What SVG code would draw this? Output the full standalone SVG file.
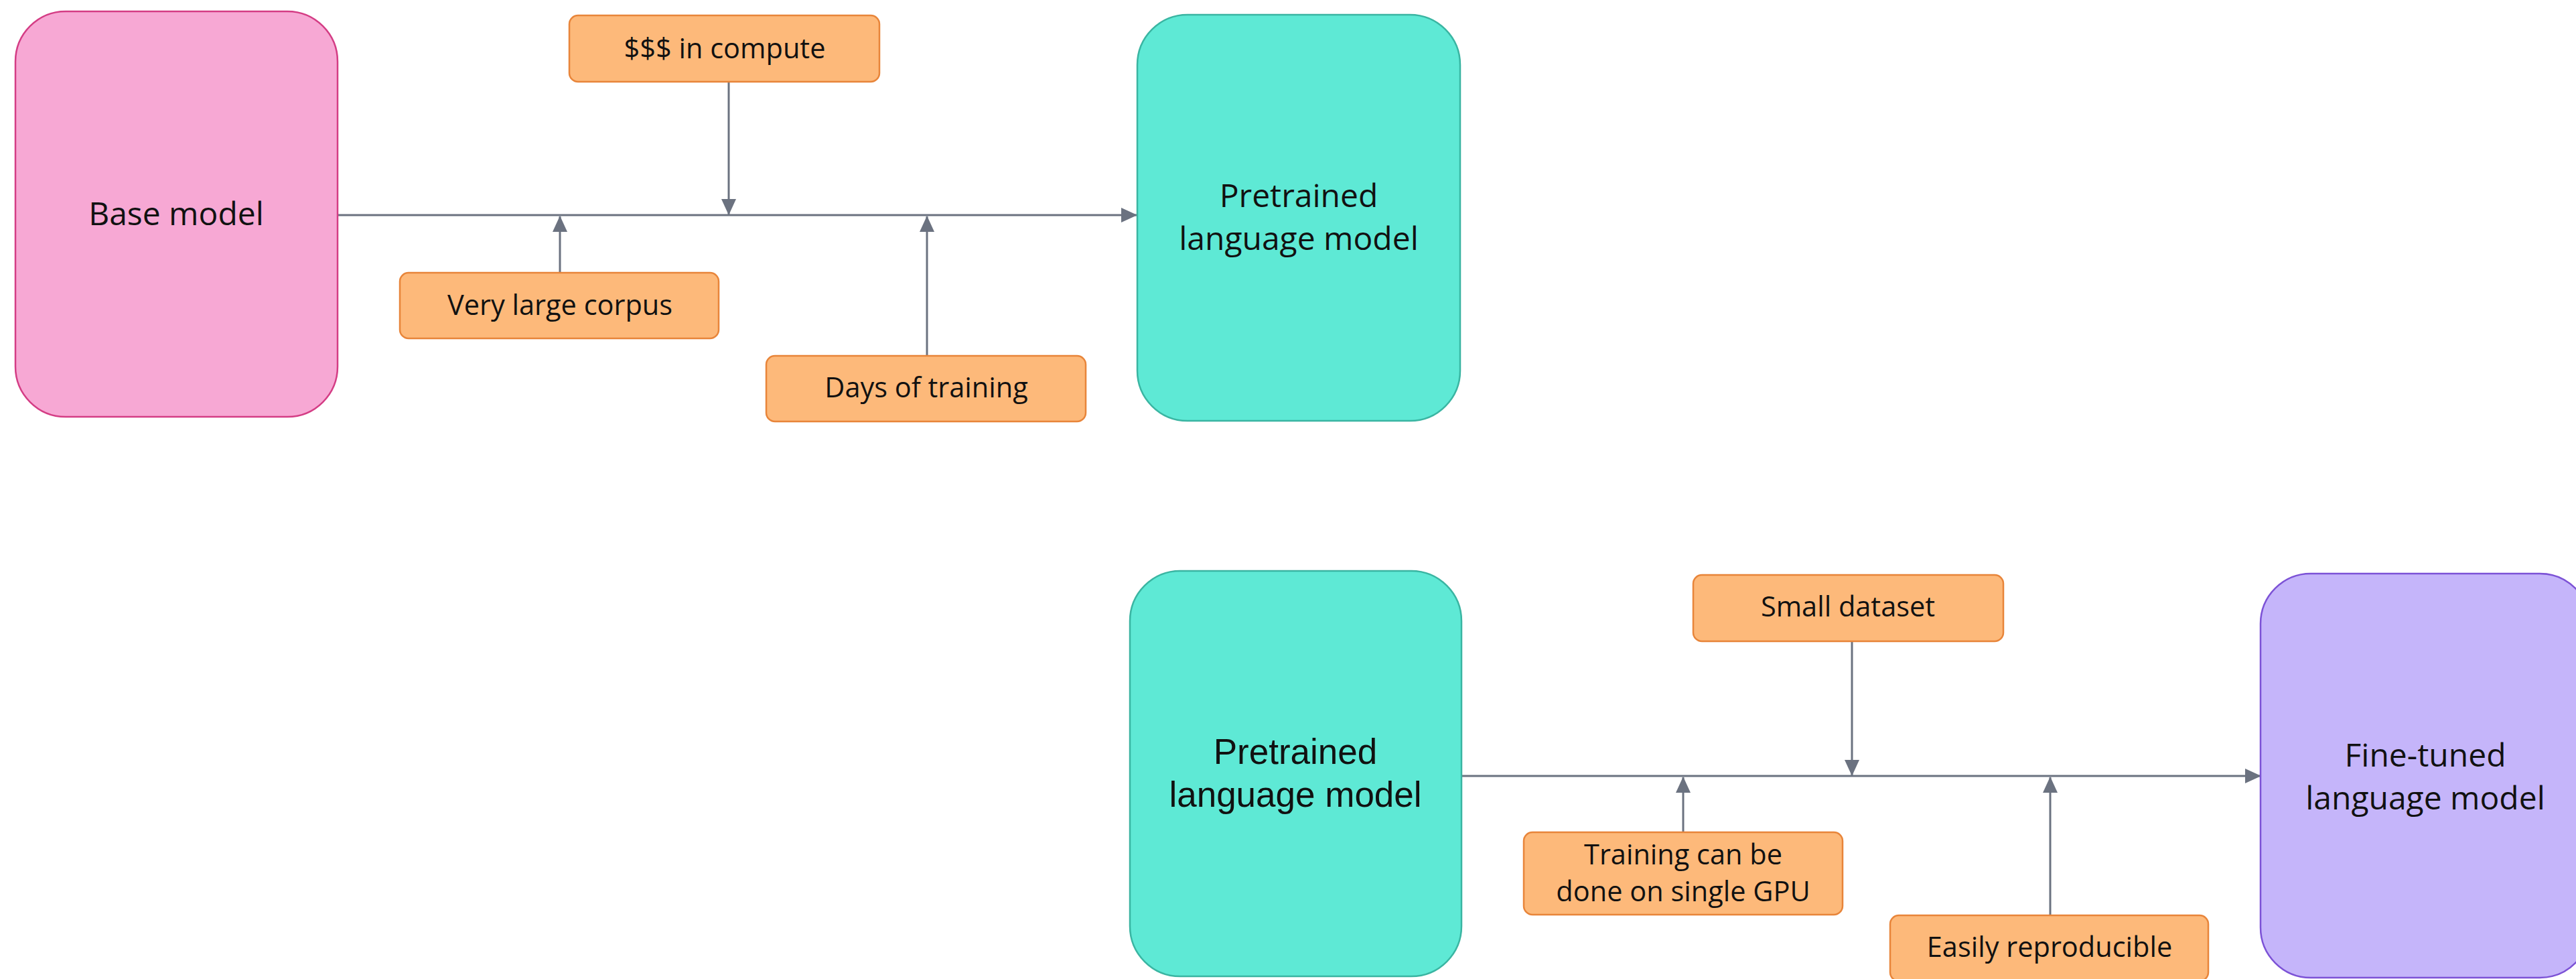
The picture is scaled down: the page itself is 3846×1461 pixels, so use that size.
<svg xmlns="http://www.w3.org/2000/svg" width="3846" height="1461" viewBox="0 0 3846 1461">
<style>
.big{font-family:"Open Sans","Noto Sans",sans-serif;font-size:48px;fill:#111;text-anchor:middle}
.arial{font-family:"Liberation Sans",Arial,sans-serif;font-size:53px;fill:#111;text-anchor:middle}
.lbl{font-family:"Open Sans","Noto Sans",sans-serif;font-size:41.5px;fill:#111;text-anchor:middle}
.note{fill:#FDB97A;stroke:#E8853A;stroke-width:2.5}
.conn{stroke:#6B7280;stroke-width:3;fill:none}
</style>
<defs>
<marker id="ah" markerUnits="userSpaceOnUse" markerWidth="24" markerHeight="24" viewBox="0 0 24 24" refX="23" refY="12" orient="auto">
<path d="M0,1 L24,12 L0,23 Z" fill="#6B7280"/>
</marker>
</defs>
<rect width="3846" height="1461" fill="#ffffff"/>
<g id="connectors">
<line class="conn" x1="504" y1="321" x2="1697" y2="321" marker-end="url(#ah)"/>
<line class="conn" x1="1088" y1="122" x2="1088" y2="320" marker-end="url(#ah)"/>
<line class="conn" x1="836" y1="407" x2="836" y2="323" marker-end="url(#ah)"/>
<line class="conn" x1="1384" y1="531" x2="1384" y2="323" marker-end="url(#ah)"/>
<line class="conn" x1="2182" y1="1158" x2="3375" y2="1158" marker-end="url(#ah)"/>
<line class="conn" x1="2765" y1="957" x2="2765" y2="1157" marker-end="url(#ah)"/>
<line class="conn" x1="2513" y1="1242" x2="2513" y2="1160" marker-end="url(#ah)"/>
<line class="conn" x1="3061" y1="1366" x2="3061" y2="1160" marker-end="url(#ah)"/>
</g>
<g id="base-model">
<rect x="23" y="17" width="481" height="605" rx="75" fill="#F7A8D4" stroke="#D43D85" stroke-width="2.5"/>
<text class="big" x="263" y="336">Base model</text>
</g>
<g id="pretrained-top">
<rect x="1698" y="22" width="482" height="606" rx="75" fill="#5EE9D5" stroke="#3AB5A2" stroke-width="2.5"/>
<text class="big" x="1939" y="309">Pretrained</text>
<text class="big" x="1939" y="373">language model</text>
</g>
<g id="compute">
<rect class="note" x="850" y="23" width="463" height="99" rx="13"/>
<text class="lbl" x="1082" y="87">$$$ in compute</text>
</g>
<g id="corpus">
<rect class="note" x="597" y="407" width="476" height="98" rx="13"/>
<text class="lbl" x="836" y="470">Very large corpus</text>
</g>
<g id="days">
<rect class="note" x="1144" y="531" width="477" height="98" rx="13"/>
<text class="lbl" x="1383" y="593">Days of training</text>
</g>
<g id="pretrained-bottom">
<rect x="1687" y="852" width="495" height="605" rx="75" fill="#5EE9D5" stroke="#3AB5A2" stroke-width="2.5"/>
<text class="arial" x="1934" y="1140">Pretrained</text>
<text class="arial" x="1934" y="1204">language model</text>
</g>
<g id="small-dataset">
<rect class="note" x="2528" y="858" width="463" height="99" rx="13"/>
<text class="lbl" x="2759" y="920">Small dataset</text>
</g>
<g id="single-gpu">
<rect class="note" x="2275" y="1242" width="476" height="123" rx="13"/>
<text class="lbl" x="2513" y="1290">Training can be</text>
<text class="lbl" x="2513" y="1345">done on single GPU</text>
</g>
<g id="reproducible">
<rect class="note" x="2822" y="1366" width="475" height="98" rx="13"/>
<text class="lbl" x="3060" y="1428">Easily reproducible</text>
</g>
<g id="fine-tuned">
<rect x="3375" y="856" width="492" height="603" rx="75" fill="#C5B5FA" stroke="#7C52D6" stroke-width="2.5"/>
<text class="big" x="3621" y="1144">Fine-tuned</text>
<text class="big" x="3621" y="1208">language model</text>
</g>
</svg>
